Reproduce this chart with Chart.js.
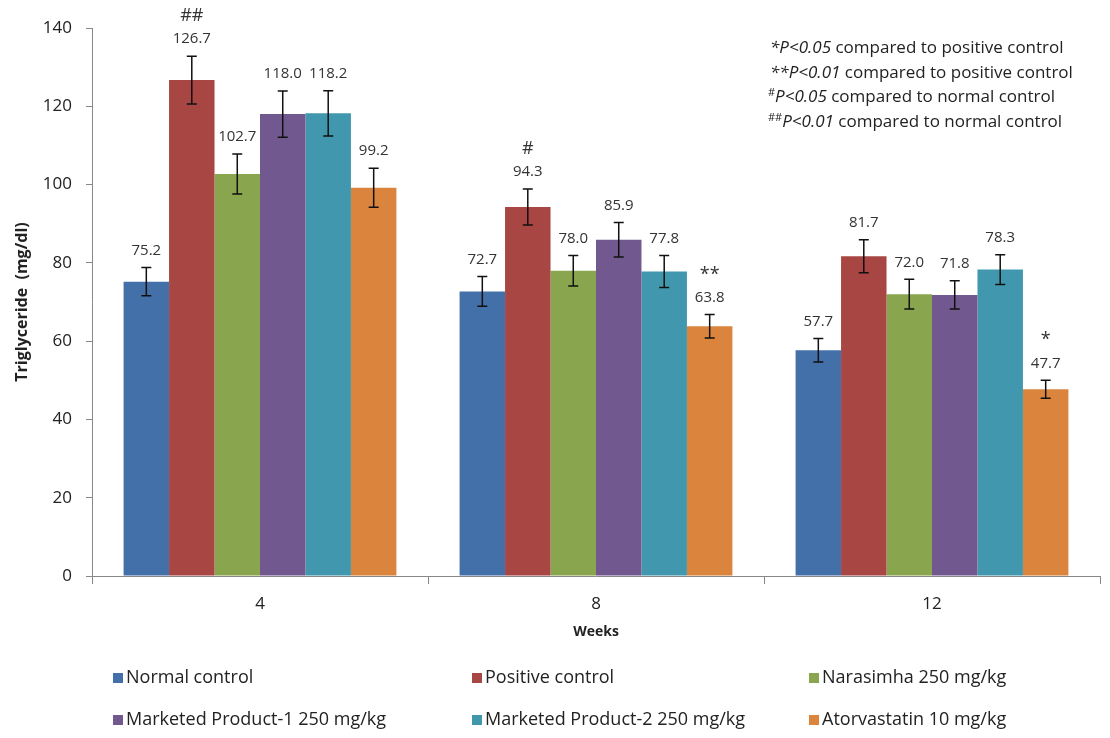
<!DOCTYPE html>
<html>
<head>
<meta charset="utf-8">
<script src="https://cdn.jsdelivr.net/npm/chart.js@4.4.0/dist/chart.umd.min.js"></script>
<style>
  html, body { margin: 0; padding: 0; background: #fff; }
  #wrap { width: 1110px; height: 738px; }
</style>
</head>
<body>
<div id="wrap"><canvas id="tgChart" width="1110" height="738"></canvas></div>
<script>
// datos
const weeks = ['4', '8', '12'];

const normalControl    = [75.2, 72.7, 57.7];
const positiveControl  = [126.7, 94.3, 81.7];
const narasimha        = [102.7, 78.0, 72.0];
const marketed1        = [118.0, 85.9, 71.8];
const marketed2        = [118.2, 77.8, 78.3];
const atorvastatin     = [99.2, 63.8, 47.7];

// errores estimados (barras de error)
const normalErr    = [3.6, 3.8, 3.0];
const positiveErr  = [6.1, 4.6, 4.2];
const narasimhaErr = [5.1, 3.9, 3.8];
const marketed1Err = [5.9, 4.4, 3.6];
const marketed2Err = [5.8, 4.1, 3.8];
const atorvaErr    = [5.0, 3.0, 2.3];

// marcas de significancia
const positiveMarks = ['##', '#', ''];
const atorvaMarks   = ['', '**', '*'];

const seriesNames = ['Normal control', 'Positive control', 'Narasimha 250 mg/kg',
                     'Marketed Product-1 250 mg/kg', 'Marketed Product-2 250 mg/kg', 'Atorvastatin 10 mg/kg'];
const seriesColors = ['#4470AA', '#A84643', '#89A64E', '#71588F', '#4097AE', '#DA843E'];

const yTicks = [0, 20, 40, 60, 80, 100, 120, 140];

const FONT = "'Open Sans', 'DejaVu Sans', sans-serif";

const seriesValues = [normalControl, positiveControl, narasimha, marketed1, marketed2, atorvastatin];
const seriesErrors = [normalErr, positiveErr, narasimhaErr, marketed1Err, marketed2Err, atorvaErr];
const seriesMarks  = [['', '', ''], positiveMarks, ['', '', ''], ['', '', ''], ['', '', ''], atorvaMarks];

const datasets = seriesNames.map((name, i) => ({
    label: name,
    data: seriesValues[i],
    errors: seriesErrors[i],
    marks: seriesMarks[i],
    backgroundColor: seriesColors[i],
    borderWidth: 0,
    categoryPercentage: 0.812,
    barPercentage: 1.0
}));

// barras de error + etiquetas de valores + marcas
const errorBarsPlugin = {
    id: 'errorBars',
    afterDatasetsDraw(chart) {
        const ctx = chart.ctx;
        const y = chart.scales.y;
        ctx.save();
        chart.data.datasets.forEach((ds, di) => {
            const meta = chart.getDatasetMeta(di);
            meta.data.forEach((bar, i) => {
                const v = ds.data[i];
                const e = ds.errors[i];
                const x = bar.x;
                const yTop = y.getPixelForValue(v + e);
                const yBot = y.getPixelForValue(v - e);
                ctx.strokeStyle = '#111';
                ctx.lineWidth = 1.5;
                ctx.beginPath();
                ctx.moveTo(x, yTop); ctx.lineTo(x, yBot);
                ctx.moveTo(x - 5, yTop); ctx.lineTo(x + 5, yTop);
                ctx.moveTo(x - 5, yBot); ctx.lineTo(x + 5, yBot);
                ctx.stroke();

                ctx.fillStyle = '#333';
                ctx.font = '15px ' + FONT;
                ctx.textAlign = 'center';
                ctx.textBaseline = 'middle';
                const labelY = yTop - 17;
                ctx.fillText(v.toFixed(1), x, labelY);

                const mark = ds.marks[i];
                if (mark) {
                    ctx.font = '18px ' + FONT;
                    ctx.fillText(mark, x, labelY - 23);
                }
            });
        });
        ctx.restore();
    }
};

// leyenda en tres columnas y texto de significancia
const extrasPlugin = {
    id: 'extras',
    afterDraw(chart) {
        const ctx = chart.ctx;
        ctx.save();
        // leyenda
        const colX = [113, 472, 809];
        const rowY = [678, 720];
        ctx.font = '18px ' + FONT;
        ctx.textBaseline = 'middle';
        ctx.textAlign = 'left';
        seriesNames.forEach((name, i) => {
            const cx = colX[i % 3];
            const cy = rowY[Math.floor(i / 3)];
            ctx.fillStyle = seriesColors[i];
            ctx.fillRect(cx, cy - 5, 10, 10);
            ctx.fillStyle = '#222';
            ctx.fillText(name, cx + 13, cy);
        });

        // notas de significancia
        const notes = [
            { x: 770, y: 48, pre: '*', sup: false, p: 'P<0.05', rest: ' compared to positive control' },
            { x: 770, y: 73, pre: '**', sup: false, p: 'P<0.01', rest: ' compared to positive control' },
            { x: 768, y: 97, pre: '#', sup: true, p: 'P<0.05', rest: ' compared to normal control' },
            { x: 768, y: 122, pre: '##', sup: true, p: 'P<0.01', rest: ' compared to normal control' }
        ];
        ctx.fillStyle = '#222';
        notes.forEach(n => {
            let x = n.x;
            if (n.sup) {
                ctx.font = '11px ' + FONT;
                ctx.fillText(n.pre, x, n.y - 4);
            } else {
                ctx.font = 'italic 17px ' + FONT;
                ctx.fillText(n.pre, x, n.y);
            }
            x += ctx.measureText(n.pre).width;
            ctx.font = 'italic 17px ' + FONT;
            ctx.fillText(n.p, x, n.y);
            x += ctx.measureText(n.p).width;
            ctx.font = '17px ' + FONT;
            ctx.fillText(n.rest, x, n.y);
        });
        ctx.restore();
    }
};

const ctxTg = document.getElementById('tgChart');
new Chart(ctxTg, {
    type: 'bar',
    data: { labels: weeks, datasets: datasets },
    options: {
        responsive: false,
        animation: false,
        devicePixelRatio: 1,
        layout: { padding: { left: 0, right: 10, top: 28, bottom: 94 } },
        plugins: {
            legend: { display: false },
            tooltip: { enabled: false }
        },
        scales: {
            x: {
                grid: { offset: true, drawOnChartArea: false, drawTicks: true, tickLength: 8, color: '#888' },
                border: { color: '#888', width: 1 },
                ticks: { color: '#222', font: { family: FONT, size: 17 }, padding: 10 },
                title: { display: true, text: 'Weeks', color: '#222', font: { family: FONT, size: 14, weight: 'bold' }, padding: { top: 6 } },
                afterFit(scale) { scale.height = 68; }
            },
            y: {
                min: 0,
                max: 140,
                afterBuildTicks(scale) { scale.ticks = yTicks.map(v => ({ value: v })); },
                grid: { drawOnChartArea: false, drawTicks: true, tickLength: 6, color: '#888' },
                border: { color: '#888', width: 1 },
                ticks: { color: '#222', font: { family: FONT, size: 17 }, padding: 14 },
                title: { display: true, text: 'Triglyceride  (mg/dl)', color: '#222', font: { family: FONT, size: 16, weight: 'bold' }, padding: { top: 13, bottom: 0 } },
                afterFit(scale) { scale.width = 92; }
            }
        }
    },
    plugins: [errorBarsPlugin, extrasPlugin]
});
</script>
</body>
</html>
